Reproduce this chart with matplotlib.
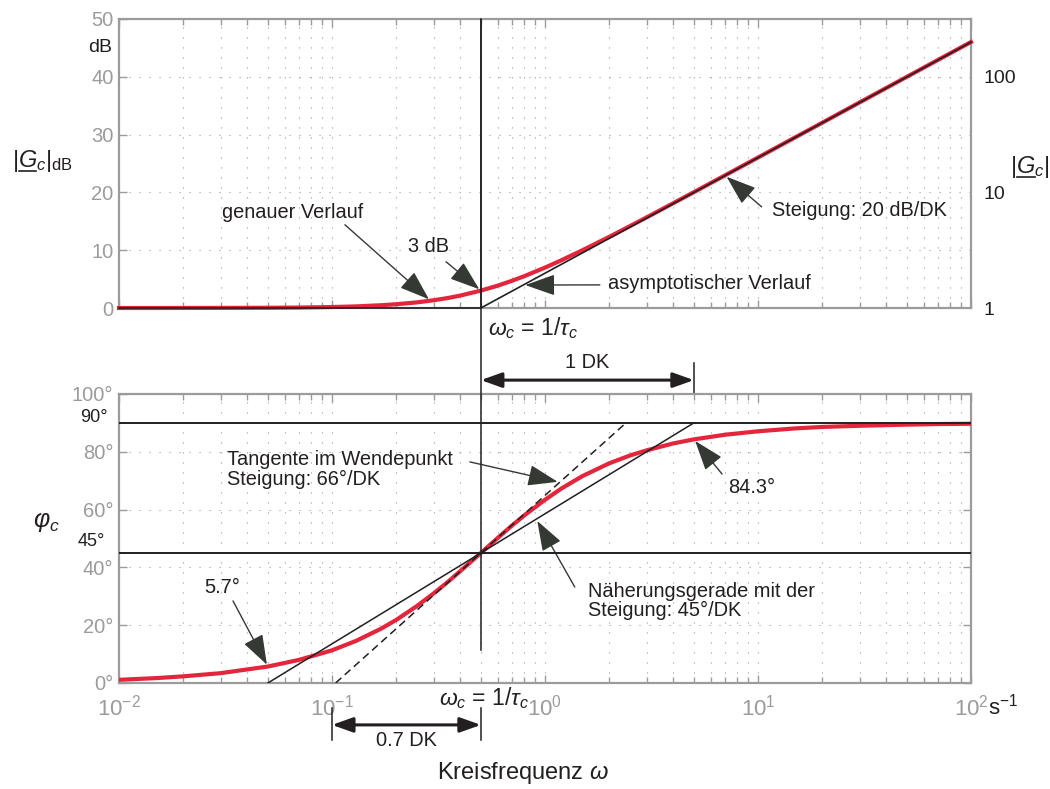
import numpy as np
import matplotlib
matplotlib.use("Agg")
import matplotlib.pyplot as plt
from matplotlib import transforms
from matplotlib.lines import Line2D

plt.rcParams["font.family"] = ["Liberation Sans", "DejaVu Sans"]
plt.rcParams["mathtext.fontset"] = "custom"
plt.rcParams["mathtext.rm"] = "Liberation Sans"
plt.rcParams["mathtext.it"] = "Liberation Sans:italic"
plt.rcParams["mathtext.bf"] = "Liberation Sans:bold"

# PD element G_c = 1 + j*w*tau_c, corner frequency w_c = 1/tau_c
w_c = 0.5

w = [0.01, 0.015, 0.02, 0.03, 0.05, 0.07, 0.1, 0.13, 0.17, 0.2, 0.25, 0.3,
     0.35, 0.4, 0.5, 0.6, 0.7, 0.8, 1.0, 1.2, 1.5, 2.0, 2.5, 3.0, 4.0, 5.0,
     7.0, 10.0, 15.0, 20.0, 30.0, 50.0, 70.0, 100.0]
mag_db = [0.0, 0.0, 0.01, 0.02, 0.04, 0.08, 0.17, 0.28, 0.48, 0.65, 0.97, 1.34,
          1.73, 2.15, 3.01, 3.87, 4.71, 5.51, 6.99, 8.30, 10.0, 12.30, 14.15, 15.68,
          18.13, 20.04, 22.95, 26.03, 29.55, 32.04, 35.57, 40.0, 42.92, 46.02]
phase_deg = [1.1, 1.7, 2.3, 3.4, 5.7, 8.0, 11.3, 14.6, 18.8, 21.8, 26.6, 31.0,
             35.0, 38.7, 45.0, 50.2, 54.5, 58.0, 63.4, 67.4, 71.6, 76.0, 78.7, 80.5,
             82.9, 84.3, 85.9, 87.1, 88.1, 88.6, 89.0, 89.4, 89.6, 89.7]

# asymptotes and straight-line approximations
asym_w = [0.01, 0.5, 100.0]
asym_db = [0.0, 0.0, 46.0]
approx_w = [0.05, 5.0]
approx_deg = [0.0, 90.0]
tangent_w = [0.104, 2.40]
tangent_deg = [0.0, 90.0]

db_ticks = [0, 10, 20, 30, 40, 50]
mag_ticks = [1, 10, 100]
mag_labels = ["1", "10", "100"]
deg_ticks = [0, 20, 40, 60, 80, 100]
deg_labels = ["0°", "20°", "40°", "60°", "80°", "100°"]
x_ticks = [1e-2, 1e-1, 1e0, 1e1, 1e2]
x_labels = [r"$10^{-2}$", r"$10^{-1}$", r"$10^{0}$", r"$10^{1}$", r"$10^{2}$"]

RED = "#e4263c"
INK = "#231f20"
GRAY = "#9b9b9b"
ARROW = "#353934"
FS = 14.4


def style_axes(ax):
    ax.set_xscale("log")
    ax.set_xlim(1e-2, 1e2)
    for sp in ax.spines.values():
        sp.set_color(GRAY)
        sp.set_linewidth(1.6)
    ax.tick_params(which="both", direction="in", top=True, right=True,
                   color=GRAY, width=1.0)
    ax.tick_params(which="major", length=6)
    ax.tick_params(which="minor", length=4)
    ax.tick_params(axis="y", labelsize=14.5, labelcolor=GRAY, pad=4)
    ax.grid(True, which="both", axis="x", color=GRAY, lw=0.8, ls=(0, (1, 8)))
    ax.grid(True, which="major", axis="y", color=GRAY, lw=0.8, ls=(0, (1, 8)))
    ax.set_axisbelow(True)


def pointer(ax, tail, tip):
    ax.annotate("", xy=tip, xytext=tail,
                arrowprops=dict(arrowstyle="-|>,head_length=0.85,head_width=0.3",
                                color=ARROW, lw=1.0, shrinkA=0, shrinkB=1.5,
                                mutation_scale=22))


def on_curve(x, xs, ys):
    return np.interp(np.log10(x), np.log10(xs), ys)


def underlined_label(ax, x, y, full, before, through, **kw):
    # mathtext has no \underline, so the bar under G is drawn by hand
    ax.text(x, y, full, transform=ax.transAxes, ha="left", va="baseline", **kw)
    fig.canvas.draw()
    renderer = fig.canvas.get_renderer()

    def right_edge(part):
        tmp = ax.text(x, y, part, transform=ax.transAxes, ha="left", va="baseline", **kw)
        ext = tmp.get_window_extent(renderer)
        tmp.remove()
        return ext.x1

    x0, x1 = right_edge(before) + 1, right_edge(through) - 1
    base = ax.transAxes.transform((x, y))[1] - 4
    inv = fig.transFigure.inverted()
    (fx0, fy), (fx1, _) = inv.transform([(x0, base), (x1, base)])
    fig.add_artist(Line2D([fx0, fx1], [fy, fy], color=kw.get("color", INK), lw=1.2))


fig = plt.figure(figsize=(10.5, 7.89), dpi=100)
ax1 = fig.add_axes([0.11333, 0.60963, 0.81143, 0.36629])
ax2 = fig.add_axes([0.11333, 0.13435, 0.81143, 0.36629])

# ---- magnitude ----
style_axes(ax1)
ax1.set_ylim(0, 50)
ax1.set_yticks(db_ticks)
ax1.tick_params(axis="x", labelbottom=False)
ax1.plot(w, mag_db, color=RED, lw=3.0, clip_on=False, zorder=3)
ax1.plot(asym_w, asym_db, color=INK, lw=1.2, clip_on=False, zorder=4)
ax1.axvline(w_c, color=INK, lw=1.1, zorder=4)

ax1r = ax1.twinx()
ax1r.set_yscale("log")
ax1r.set_ylim(1, 10 ** (50 / 20))
ax1r.set_yticks(mag_ticks, mag_labels)
ax1r.yaxis.set_minor_locator(matplotlib.ticker.NullLocator())
ax1r.tick_params(axis="y", length=0, labelsize=14, labelcolor=INK, pad=9)
for sp in ax1r.spines.values():
    sp.set_visible(False)

ax1.text(-0.0223, 0.900, "dB", transform=ax1.transAxes, ha="center", va="center",
         fontsize=14, color=INK)

tr1 = transforms.blended_transform_factory(ax1.transData, ax1.transAxes)
ax1.text(w_c * 1.08, -0.093, r"$\omega_c$ = $1/\tau_c$", transform=tr1,
         ha="left", va="baseline", fontsize=16.5, color=INK)

ax1.text(0.0656, 16.5, "genauer Verlauf", ha="center", va="center", fontsize=FS, color=INK)
pointer(ax1, (0.115, 14.4), (0.29, on_curve(0.29, w, mag_db)))
ax1.text(0.285, 10.6, "3 dB", ha="center", va="center", fontsize=FS, color=INK)
pointer(ax1, (0.343, 8.0), (w_c, on_curve(w_c, w, mag_db)))
ax1.text(1.98, 4.3, "asymptotischer Verlauf", ha="left", va="center", fontsize=FS, color=INK)
pointer(ax1, (1.81, 4.0), (0.79, on_curve(0.79, asym_w, asym_db)))
ax1.text(11.6, 16.9, "Steigung: 20 dB/DK", ha="left", va="center", fontsize=FS, color=INK)
pointer(ax1, (10.4, 17.5), (7.0, on_curve(7.0, w, mag_db)))

# ---- phase ----
style_axes(ax2)
ax2.set_ylim(0, 100)
ax2.set_yticks(deg_ticks, deg_labels)
ax2.set_xticks(x_ticks, x_labels)
ax2.tick_params(axis="x", labelsize=16, labelcolor=GRAY, pad=8)
ax2.axhline(90, color=INK, lw=1.4, zorder=4)
ax2.axhline(45, color=INK, lw=1.4, zorder=4)
ax2.plot(w, phase_deg, color=RED, lw=3.0, zorder=3)
ax2.plot(approx_w, approx_deg, color=INK, lw=1.1, zorder=4)
ax2.plot(tangent_w, tangent_deg, color=INK, lw=1.1, ls=(0, (5, 3)), zorder=4)

tr2 = transforms.blended_transform_factory(ax2.transData, ax2.transAxes)
ty2 = transforms.blended_transform_factory(ax2.transAxes, ax2.transData)
b1 = ax1.get_position()
b2 = ax2.get_position()
top_in_ax2 = (b1.y1 - b2.y0) / b2.height
ax2.plot([w_c, w_c], [0.114, top_in_ax2], transform=tr2, color=INK, lw=1.1,
         clip_on=False, zorder=4)

# one decade bracket above the phase plot
ax2.plot([10 * w_c, 10 * w_c], [1.0, 1.107], transform=tr2, color=INK, lw=1.1, clip_on=False)
ax2.annotate("", xy=(10 * w_c, 1.048), xytext=(w_c, 1.048), xycoords=tr2, textcoords=tr2,
             arrowprops=dict(arrowstyle="<|-|>,head_length=0.7,head_width=0.25",
                             color=INK, lw=2.2, shrinkA=0, shrinkB=0, mutation_scale=18))
ax2.text(np.sqrt(10) * w_c, 1.108, "1 DK", transform=tr2, ha="center", va="center",
         fontsize=FS, color=INK)

# 0.7 decade bracket below the axis
for xv in (0.1, w_c):
    ax2.plot([xv, xv], [-0.087, -0.197], transform=tr2, color=INK, lw=1.1, clip_on=False)
ax2.annotate("", xy=(w_c, -0.145), xytext=(0.1, -0.145), xycoords=tr2, textcoords=tr2,
             arrowprops=dict(arrowstyle="<|-|>,head_length=0.7,head_width=0.25",
                             color=INK, lw=2.2, shrinkA=0, shrinkB=0, mutation_scale=18))
ax2.text(np.sqrt(0.1 * w_c), -0.199, "0.7 DK", transform=tr2, ha="center", va="center",
         fontsize=FS, color=INK)

ax2.text(w_c * 0.635, -0.076, r"$\omega_c$ = $1/\tau_c$", transform=tr2,
         ha="left", va="baseline", fontsize=16.5, color=INK)
ax2.text(1.020, -0.08, r"s$^{-1}$", transform=ax2.transAxes, ha="left", va="center",
         fontsize=16, color=INK)
ax2.text(0.474, -0.311, r"Kreisfrequenz $\omega$", transform=ax2.transAxes,
         ha="center", va="center", fontsize=17, color=INK)

ax2.text(-0.029, 91.8, "90°", transform=ty2, ha="center", va="center",
         fontsize=13, color=INK)
ax2.text(-0.032, 48.8, "45°", transform=ty2, ha="center", va="center",
         fontsize=13, color=INK)
ax2.text(-0.085, 55.7, r"$\varphi_c$", transform=ty2, ha="center", va="center",
         fontsize=18, color=INK)

ax2.text(0.0321, 73.9, "Tangente im Wendepunkt\nSteigung: 66°/DK", ha="left",
         va="center", fontsize=FS, color=INK, linespacing=1.05)
pointer(ax2, (0.444, 76.5), (w_c * 10 ** 0.37, on_curve(w_c * 10 ** 0.37, tangent_w, tangent_deg)))
ax2.text(1.59, 28.4, "Näherungsgerade mit der\nSteigung: 45°/DK", ha="left",
         va="center", fontsize=FS, color=INK, linespacing=1.05)
pointer(ax2, (1.38, 33.2), (w_c * 10 ** 0.26, on_curve(w_c * 10 ** 0.26, approx_w, approx_deg)))
ax2.text(0.0305, 32.9, "5.7°", ha="center", va="center", fontsize=FS, color=INK)
pointer(ax2, (0.0343, 28.4), (0.05, on_curve(0.05, w, phase_deg)))
ax2.text(9.37, 67.5, "84.3°", ha="center", va="center", fontsize=FS, color=INK)
pointer(ax2, (6.78, 72.3), (5.0, on_curve(5.0, w, phase_deg)))

# axis titles with underlined G
underlined_label(ax1, -0.1256, 0.488, r"$|G_c|_{\mathrm{dB}}$", r"$|$", r"$|G$",
                 fontsize=17, color=INK)
underlined_label(ax1, 1.046, 0.467, r"$|G_c|$", r"$|$", r"$|G$",
                 fontsize=17, color=INK)

fig.savefig("out.png", dpi=100)
